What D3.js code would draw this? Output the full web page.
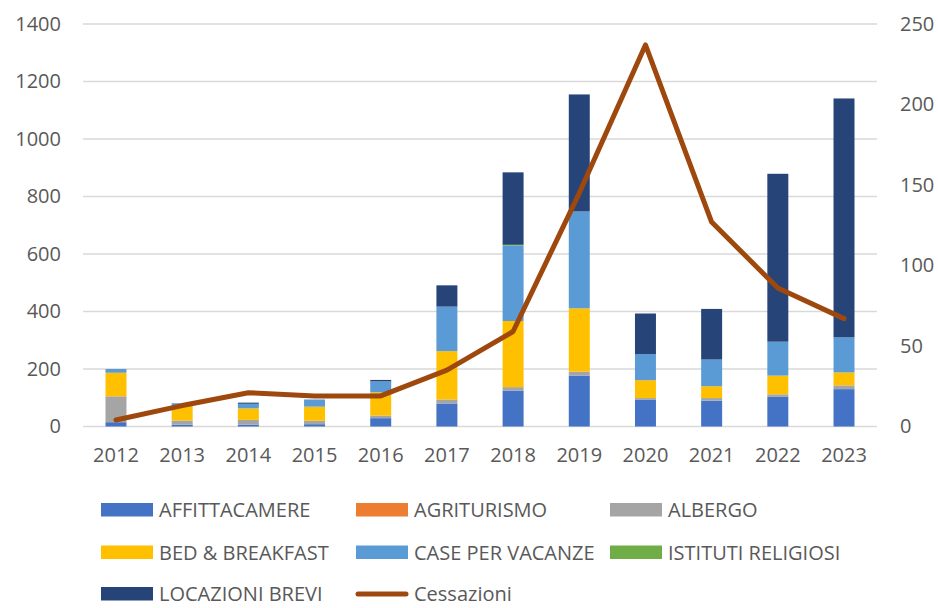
<!DOCTYPE html>
<html>
<head>
<meta charset="utf-8">
<script src="https://cdn.jsdelivr.net/npm/d3@7"></script>
<style>
  body { margin: 0; background: #fff; }
  text { font-family: "Open Sans", "Liberation Sans", sans-serif; fill: #595959; }
</style>
</head>
<body>
<svg id="chart" width="938" height="608"></svg>
<script>
var years = ["2012", "2013", "2014", "2015", "2016", "2017", "2018", "2019", "2020", "2021", "2022", "2023"];

// stacked bar series (left axis)
var affittacamere = [15, 6, 6, 8, 29, 80, 125, 177, 94, 90, 103, 130];
var agriturismo = [0, 0, 0, 0, 0, 0, 0, 0, 0, 0, 0, 0];
var albergo = [90, 15, 17, 12, 9, 14, 12, 14, 5, 9, 9, 13];
var bedBreakfast = [82, 50, 40, 49, 81, 168, 230, 220, 62, 41, 65, 45];
var casePerVacanze = [13, 10, 16, 25, 38, 155, 262, 337, 91, 93, 118, 122];
var istitutiReligiosi = [0, 0, 0, 0, 0, 0, 3, 0, 0, 0, 0, 0];
var locazioniBrevi = [0, 0, 4, 0, 5, 74, 252, 407, 141, 176, 584, 831];

// line series (right axis)
var cessazioni = [4, 13, 21, 19, 19, 35, 59, 145, 237, 127, 86, 67];

var leftTicks = [0, 200, 400, 600, 800, 1000, 1200, 1400];
var rightTicks = [0, 50, 100, 150, 200, 250];

var seriesNames = ["AFFITTACAMERE", "AGRITURISMO", "ALBERGO", "BED & BREAKFAST",
                   "CASE PER VACANZE", "ISTITUTI RELIGIOSI", "LOCAZIONI BREVI"];
var seriesValues = [affittacamere, agriturismo, albergo, bedBreakfast,
                    casePerVacanze, istitutiReligiosi, locazioniBrevi];
var colors = ["#4472C4", "#ED7D31", "#A5A5A5", "#FFC000", "#5B9BD5", "#70AD47", "#264478"];
var lineColor = "#9E480E";

var plotLeft = 83;
var plotRight = 877;
var plotTop = 24;
var plotBottom = 426.5;

var svg = d3.select("#chart");

// build rows for d3.stack
var rows = years.map(function(y, i) {
    var row = {year: y};
    seriesNames.forEach((name, s) => row[name] = seriesValues[s][i]);
    return row;
});
var stacked = d3.stack().keys(seriesNames)(rows);

var x = d3.scaleBand()
    .domain(years)
    .range([plotLeft, plotRight])
    .paddingInner(0.683)
    .paddingOuter(0.34);

var yLeft = d3.scaleLinear().domain([0, 1400]).range([plotBottom, plotTop]);
var yRight = d3.scaleLinear().domain([0, 250]).range([plotBottom, plotTop]);

// gridlines
svg.append("g")
    .selectAll("line")
    .data(leftTicks)
    .join("line")
    .attr("x1", plotLeft)
    .attr("x2", plotRight)
    .attr("y1", d => yLeft(d))
    .attr("y2", d => yLeft(d))
    .attr("stroke", "#D9D9D9")
    .attr("stroke-width", 1.3);

// left axis
var leftAxis = svg.append("g")
    .attr("transform", "translate(" + plotLeft + ",0)")
    .call(d3.axisLeft(yLeft).tickValues(leftTicks).tickFormat(d3.format("d")).tickSize(0).tickPadding(22));
leftAxis.select(".domain").remove();

// right axis
var rightAxis = svg.append("g")
    .attr("transform", "translate(" + plotRight + ",0)")
    .call(d3.axisRight(yRight).tickValues(rightTicks).tickFormat(d3.format("d")).tickSize(0).tickPadding(23));
rightAxis.select(".domain").remove();

// bottom axis
var bottomAxis = svg.append("g")
    .attr("transform", "translate(0," + plotBottom + ")")
    .call(d3.axisBottom(x).tickSize(0).tickPadding(21));
bottomAxis.select(".domain").remove();

svg.selectAll(".tick text")
    .style("font-size", "20px")
    .style("font-family", "'Open Sans', sans-serif")
    .attr("fill", "#595959");

// stacked bars
svg.append("g")
    .selectAll("g")
    .data(stacked)
    .join("g")
    .attr("fill", (d, i) => colors[i])
    .selectAll("rect")
    .data(d => d)
    .join("rect")
    .attr("x", d => x(d.data.year))
    .attr("width", x.bandwidth())
    .attr("y", d => yLeft(d[1]))
    .attr("height", d => yLeft(d[0]) - yLeft(d[1]));

// cessazioni line
var line = d3.line()
    .x((d, i) => x(years[i]) + x.bandwidth() / 2)
    .y(d => yRight(d));

svg.append("path")
    .datum(cessazioni)
    .attr("d", line)
    .attr("fill", "none")
    .attr("stroke", lineColor)
    .attr("stroke-width", 5)
    .attr("stroke-linejoin", "round")
    .attr("stroke-linecap", "round");

// legend (last row nudged up so its text stays inside the picture)
var legendCols = [101, 356, 610];
var legendRows = [510, 552.5, 594];
var legendItems = seriesNames.map((name, i) => ({name: name, color: colors[i], type: "bar"}));
legendItems.push({name: "Cessazioni", color: lineColor, type: "line"});

var legend = svg.append("g")
    .selectAll("g")
    .data(legendItems)
    .join("g")
    .attr("transform", (d, i) => "translate(" + legendCols[i % 3] + "," + legendRows[Math.floor(i / 3)] + ")");

legend.filter(d => d.type == "bar").append("rect")
    .attr("x", 0)
    .attr("y", -7)
    .attr("width", 52)
    .attr("height", 13.5)
    .attr("fill", d => d.color);

legend.filter(d => d.type == "line").append("line")
    .attr("x1", 2)
    .attr("x2", 50)
    .attr("y1", 0)
    .attr("y2", 0)
    .attr("stroke", d => d.color)
    .attr("stroke-width", 5)
    .attr("stroke-linecap", "round");

legend.append("text")
    .attr("x", 58)
    .attr("y", 0)
    .attr("dy", "0.35em")
    .style("font-size", "20px")
    .text(d => d.name);
</script>
</body>
</html>
